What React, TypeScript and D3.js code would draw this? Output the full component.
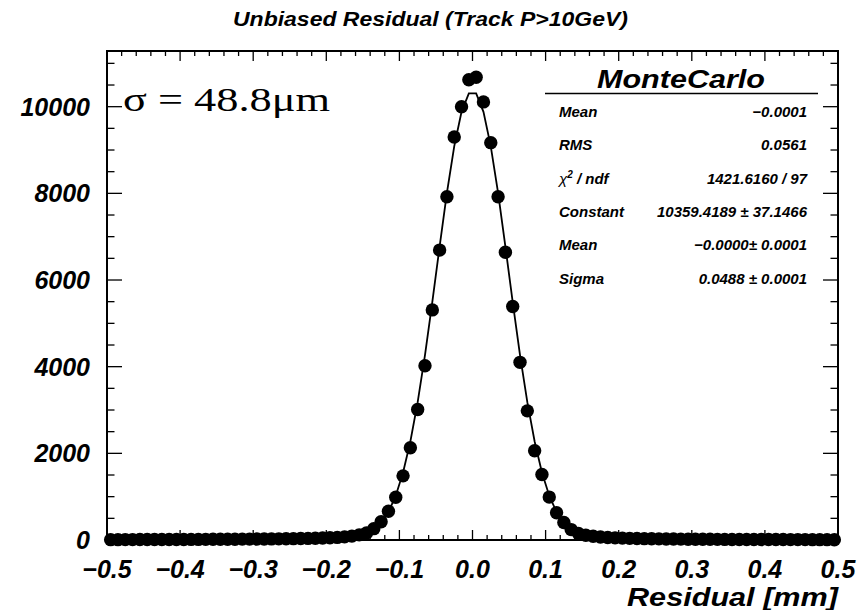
import React from "react";
import * as d3 from "d3";

// Bin centres of the histogram (100 bins, width 0.01 mm)
const binCenters: number[] = d3.range(100).map((i) => +(-0.495 + 0.01 * i).toFixed(3));

// Counts, left half (-0.495 .. -0.005)
const countsLeft: number[] = [
  8, 8, 9, 9, 10, 10, 11, 11, 12, 12,
  13, 14, 14, 15, 16, 17, 18, 19, 20, 21,
  22, 24, 25, 27, 29, 31, 34, 37, 41, 46,
  52, 60, 72, 90, 118, 160, 262, 420, 665, 985,
  1480, 2130, 3010, 4020, 5310, 6690, 7920, 9300, 10000, 10620,
];
// Counts, right half (0.005 .. 0.495)
const countsRight: number[] = [
  10680, 10110, 9170, 7920, 6640, 5390, 4100, 2980, 2060, 1510,
  990, 630, 405, 240, 150, 110, 85, 68, 57, 49,
  43, 38, 34, 31, 28, 26, 24, 22, 20, 19,
  18, 17, 16, 15, 14, 13, 13, 12, 12, 11,
  11, 10, 10, 9, 9, 9, 8, 8, 8, 7,
];
const counts: number[] = [...countsLeft, ...countsRight];

// Fit parameters (gaussian) from the stats box
const fitConstant = 10359.4189;
const fitMean = 0.0;
const fitSigma = 0.0488;

const xTicks: number[] = [-0.5, -0.4, -0.3, -0.2, -0.1, 0.0, 0.1, 0.2, 0.3, 0.4, 0.5];
const yTicks: number[] = [0, 2000, 4000, 6000, 8000, 10000];

const statLabels: string[] = ["Mean", "RMS", "CHI", "Constant", "Mean", "Sigma"];
const statValues: string[] = [
  "\u22120.0001",
  "0.0561",
  "1421.6160 / 97",
  "10359.4189 \u00b1 37.1466",
  "\u22120.0000\u00b1 0.0001",
  "0.0488 \u00b1 0.0001",
];

const W = 865;
const H = 610;
const left = 107;
const right = 838;
const top = 51;
const bottom = 540;

const FONT = "'Liberation Sans', Arial, Helvetica, sans-serif";

export default function App() {
  const x = d3.scaleLinear().domain([-0.5, 0.5]).range([left, right]);
  const y = d3.scaleLinear().domain([0, 11285]).range([bottom, top]);

  const fitPts: [number, number][] = binCenters.map((c) => [
    c,
    fitConstant * Math.exp(-0.5 * ((c - fitMean) / fitSigma) ** 2),
  ]);
  const line = d3
    .line<[number, number]>()
    .x((d) => x(d[0]))
    .y((d) => y(d[1]));

  const xMinor = d3.range(-0.5, 0.5001, 0.02);
  const yMinor = d3.range(0, 11285, 500);

  const fmtX = (v: number) => (v < 0 ? "\u2212" : "") + Math.abs(v).toFixed(1);

  return (
    <svg
      width={W}
      height={H}
      style={{ position: "absolute", left: 0, top: 0, background: "#fff" }}
      fontFamily={FONT}
    >
      <rect x={0} y={0} width={W} height={H} fill="#fff" />
      {/* Title */}
      <text
        x={233}
        y={26}
        fontSize={20}
        fontWeight="bold"
        fontStyle="italic"
        textLength={395}
        lengthAdjust="spacingAndGlyphs"
      >
        Unbiased Residual (Track P&gt;10GeV)
      </text>

      {/* x ticks bottom & top */}
      {xMinor.map((v, i) => {
        const major = Math.abs(Math.round(v * 10) - v * 10) < 1e-6;
        const len = major ? 10 : 5;
        return (
          <g key={"xt" + i}>
            <line x1={x(v)} x2={x(v)} y1={bottom} y2={bottom - len} stroke="#000" strokeWidth={1.3} />
            <line x1={x(v)} x2={x(v)} y1={top} y2={top + len} stroke="#000" strokeWidth={1.3} />
          </g>
        );
      })}
      {/* y ticks left & right */}
      {yMinor.map((v, i) => {
        const major = v % 2000 === 0;
        const len = major ? 15 : 7.5;
        return (
          <g key={"yt" + i}>
            <line x1={left} x2={left + len} y1={y(v)} y2={y(v)} stroke="#000" strokeWidth={1.3} />
            <line x1={right} x2={right - len} y1={y(v)} y2={y(v)} stroke="#000" strokeWidth={1.3} />
          </g>
        );
      })}

      {/* frame */}
      <rect x={left} y={top} width={right - left} height={bottom - top} fill="none" stroke="#000" strokeWidth={2} />

      {/* y tick labels */}
      {yTicks.map((v) => (
        <text
          key={"yl" + v}
          x={90}
          y={y(v) + 9}
          textAnchor="end"
          fontSize={25}
          fontWeight="bold"
          fontStyle="italic"
        >
          {v}
        </text>
      ))}
      {/* x tick labels */}
      {xTicks.map((v) => (
        <text
          key={"xl" + v}
          x={x(v)}
          y={578}
          textAnchor="middle"
          fontSize={25}
          fontWeight="bold"
          fontStyle="italic"
        >
          {fmtX(v)}
        </text>
      ))}
      <text
        x={838}
        y={606}
        textAnchor="end"
        fontSize={25}
        fontWeight="bold"
        fontStyle="italic"
        textLength={211}
        lengthAdjust="spacingAndGlyphs"
      >
        Residual [mm]
      </text>

      {/* fit curve */}
      <path d={line(fitPts) || ""} fill="none" stroke="#000" strokeWidth={1.8} />

      {/* data markers */}
      {counts.map((v, i) => (
        <circle key={"p" + i} cx={x(binCenters[i])} cy={y(v)} r={6.7} fill="#000" />
      ))}

      {/* sigma annotation */}
      <text
        x={123}
        y={111}
        fontSize={34}
        fontFamily="'Liberation Serif', 'Times New Roman', serif"
        textLength={207}
        lengthAdjust="spacingAndGlyphs"
      >
        σ = 48.8μm
      </text>

      {/* stats box */}
      <rect x={545} y={62} width={273} height={232} fill="#fff" />
      <text
        x={681}
        y={88}
        textAnchor="middle"
        fontSize={25}
        fontWeight="bold"
        fontStyle="italic"
        textLength={168}
        lengthAdjust="spacingAndGlyphs"
      >
        MonteCarlo
      </text>
      <line x1={545} x2={818} y1={93.5} y2={93.5} stroke="#000" strokeWidth={1.5} />
      {statLabels.map((lab, i) => {
        const by = 117 + i * 33.3;
        return (
          <g key={"s" + i}>
            {lab === "CHI" ? (
              <text x={559} y={by} fontSize={15} fontWeight="bold" fontStyle="italic">
                <tspan fontWeight="normal">χ</tspan>
                <tspan dy={-6} fontSize={10}>2</tspan>
                <tspan dy={6}> / ndf</tspan>
              </text>
            ) : (
              <text x={559} y={by} fontSize={15} fontWeight="bold" fontStyle="italic">
                {lab}
              </text>
            )}
            <text x={807} y={by} textAnchor="end" fontSize={15} fontWeight="bold" fontStyle="italic">
              {statValues[i]}
            </text>
          </g>
        );
      })}
    </svg>
  );
}
